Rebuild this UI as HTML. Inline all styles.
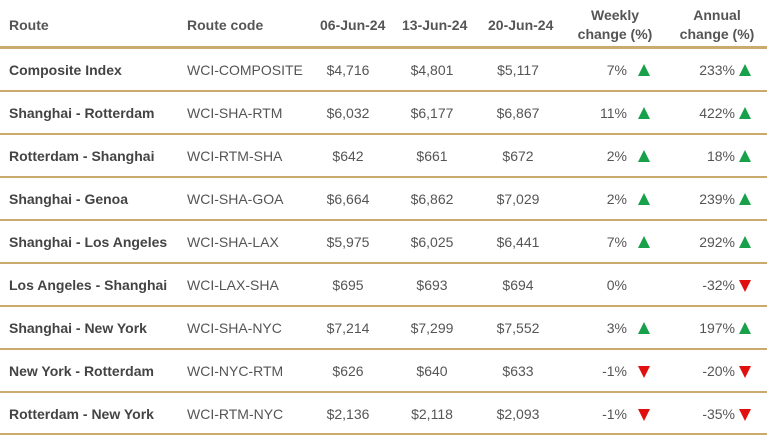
<!DOCTYPE html><html><head><meta charset="utf-8"><style>
body{margin:0;width:767px;height:436px;background:#fff;font-family:"Liberation Sans",Arial,sans-serif;color:#555;overflow:hidden;position:relative}
.h{position:absolute;font-weight:bold;font-size:14px;color:#555;line-height:19px}
.l{position:absolute;left:0;width:767px;height:2px;background:#c9ab6e}
.r{position:absolute;left:0;width:767px;height:43px}
.r div{position:absolute;top:13px;font-size:14px;line-height:17px;white-space:nowrap}
.n{left:9px;font-weight:bold;color:#444}
.c{left:187px}
.d1{left:318px;width:60px;text-align:center}
.d2{left:402px;width:60px;text-align:center}
.d3{left:488px;width:60px;text-align:center}
.w{left:560px;width:67px;text-align:right}
.a{left:660px;width:75px;text-align:right}
.t{width:0;height:0;border-left:6px solid transparent;border-right:6px solid transparent}
.up{border-bottom:12px solid #19a04a;top:15px!important}
.dn{border-top:12px solid #e01010;top:16px!important}
.tw{left:638px}.ta{left:739px}
</style></head><body>
<div class="h" style="left:9px;top:16px">Route</div>
<div class="h" style="left:187px;top:16px">Route code</div>
<div class="h" style="left:320px;top:16px">06-Jun-24</div>
<div class="h" style="left:402px;top:16px">13-Jun-24</div>
<div class="h" style="left:488px;top:16px">20-Jun-24</div>
<div class="h" style="left:576px;top:6px;text-align:center;width:78px">Weekly<br>change (%)</div>
<div class="h" style="left:678px;top:6px;text-align:center;width:78px">Annual<br>change (%)</div>
<div class="l" style="top:46px;height:3px"></div>

<div class="r" style="top:49px"><div class="n">Composite Index</div><div class="c">WCI-COMPOSITE</div><div class="d1">$4,716</div><div class="d2">$4,801</div><div class="d3">$5,117</div><div class="w">7%</div><div class="t up tw"></div><div class="a">233%</div><div class="t up ta"></div></div>
<div class="l" style="top:90px"></div>
<div class="r" style="top:92px"><div class="n">Shanghai - Rotterdam</div><div class="c">WCI-SHA-RTM</div><div class="d1">$6,032</div><div class="d2">$6,177</div><div class="d3">$6,867</div><div class="w">11%</div><div class="t up tw"></div><div class="a">422%</div><div class="t up ta"></div></div>
<div class="l" style="top:133px"></div>
<div class="r" style="top:135px"><div class="n">Rotterdam - Shanghai</div><div class="c">WCI-RTM-SHA</div><div class="d1">$642</div><div class="d2">$661</div><div class="d3">$672</div><div class="w">2%</div><div class="t up tw"></div><div class="a">18%</div><div class="t up ta"></div></div>
<div class="l" style="top:176px"></div>
<div class="r" style="top:178px"><div class="n">Shanghai - Genoa</div><div class="c">WCI-SHA-GOA</div><div class="d1">$6,664</div><div class="d2">$6,862</div><div class="d3">$7,029</div><div class="w">2%</div><div class="t up tw"></div><div class="a">239%</div><div class="t up ta"></div></div>
<div class="l" style="top:219px"></div>
<div class="r" style="top:221px"><div class="n">Shanghai - Los Angeles</div><div class="c">WCI-SHA-LAX</div><div class="d1">$5,975</div><div class="d2">$6,025</div><div class="d3">$6,441</div><div class="w">7%</div><div class="t up tw"></div><div class="a">292%</div><div class="t up ta"></div></div>
<div class="l" style="top:262px"></div>
<div class="r" style="top:264px"><div class="n">Los Angeles - Shanghai</div><div class="c">WCI-LAX-SHA</div><div class="d1">$695</div><div class="d2">$693</div><div class="d3">$694</div><div class="w">0%</div><div class="a">-32%</div><div class="t dn ta"></div></div>
<div class="l" style="top:305px"></div>
<div class="r" style="top:307px"><div class="n">Shanghai - New York</div><div class="c">WCI-SHA-NYC</div><div class="d1">$7,214</div><div class="d2">$7,299</div><div class="d3">$7,552</div><div class="w">3%</div><div class="t up tw"></div><div class="a">197%</div><div class="t up ta"></div></div>
<div class="l" style="top:348px"></div>
<div class="r" style="top:350px"><div class="n">New York - Rotterdam</div><div class="c">WCI-NYC-RTM</div><div class="d1">$626</div><div class="d2">$640</div><div class="d3">$633</div><div class="w">-1%</div><div class="t dn tw"></div><div class="a">-20%</div><div class="t dn ta"></div></div>
<div class="l" style="top:391px"></div>
<div class="r" style="top:393px"><div class="n">Rotterdam - New York</div><div class="c">WCI-RTM-NYC</div><div class="d1">$2,136</div><div class="d2">$2,118</div><div class="d3">$2,093</div><div class="w">-1%</div><div class="t dn tw"></div><div class="a">-35%</div><div class="t dn ta"></div></div>
<div class="l" style="top:433px"></div>
</body></html>
